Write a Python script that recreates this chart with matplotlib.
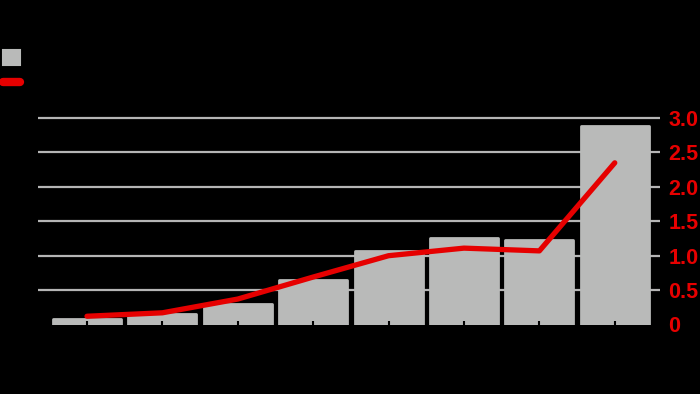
import numpy as np
import matplotlib
matplotlib.use('Agg')
import matplotlib.pyplot as plt
from matplotlib.patches import Patch
from matplotlib.lines import Line2D

# values (8 periods)
bar_values = [0.08, 0.15, 0.30, 0.65, 1.07, 1.26, 1.23, 2.89]
line_values = [0.12, 0.17, 0.37, 0.69, 1.00, 1.11, 1.07, 2.35]
yticks = [0, 0.5, 1.0, 1.5, 2.0, 2.5, 3.0]
ytick_labels = ['0', '0.5', '1.0', '1.5', '2.0', '2.5', '3.0']

bar_color = '#b9bab9'
red = '#e60000'
grid_color = '#b5b5b5'

fig = plt.figure(figsize=(7, 3.94), dpi=100, facecolor='black')
ax = fig.add_axes([38 / 700, (394 - 324.5) / 394, 622 / 700, 3.1 * 68.8 / 394])
ax.set_facecolor('black')
ax.set_axisbelow(False)

x = np.arange(len(bar_values))

# grid lines behind everything (no line at zero)
for v in yticks[1:]:
    ax.axhline(v, color=grid_color, linewidth=1.6, zorder=0)

ax.bar(x, bar_values, width=0.9, color=bar_color, edgecolor=bar_color,
       linewidth=2, joinstyle='round', zorder=2)
ax.plot(x, line_values, color=red, linewidth=3.8, solid_capstyle='round',
        solid_joinstyle='round', zorder=3)

ax.set_xlim(-0.65, 7.6)
ax.set_ylim(0, 3.1)

ax.yaxis.tick_right()
ax.set_yticks(yticks)
ax.set_yticklabels(ytick_labels, color=red, fontsize=15.5, fontweight='bold',
                   family=['Liberation Sans', 'DejaVu Sans'])
ax.tick_params(axis='y', length=0, pad=6)
ax.set_xticks(x)
ax.set_xticklabels([])
ax.tick_params(axis='x', direction='in', length=3, width=1.5, color='black')
for s in ax.spines.values():
    s.set_visible(False)

# legend markers (labels are not readable in the reference)
handles = [Patch(facecolor=bar_color, edgecolor=bar_color, linewidth=1.5, joinstyle='round'),
           Line2D([0], [0], color=red, linewidth=6, solid_capstyle='round')]
fig.legend(handles, [' ', ' '], loc='upper left', bbox_to_anchor=(3 / 700, 1 - 50 / 394),
           frameon=False, fontsize=10, handlelength=1.25, handleheight=1.25,
           borderpad=0, borderaxespad=0, labelspacing=0.8, handletextpad=0.4,
           labelcolor='black')

fig.savefig('out.png', dpi=100, facecolor='black')
